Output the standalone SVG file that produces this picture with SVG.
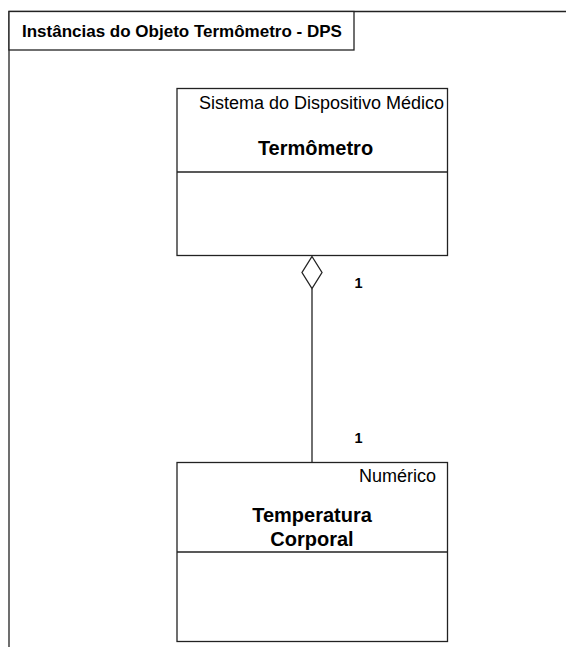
<svg xmlns="http://www.w3.org/2000/svg" width="566" height="647" viewBox="0 0 566 647">
<style>
.ln{fill:none;stroke:#222;stroke-width:1.3}
.box{fill:#fff;stroke:#222;stroke-width:1.3}
.t{font-family:"Liberation Sans",Arial,sans-serif;fill:#000}
.b{font-weight:bold}
</style>
<rect width="566" height="647" fill="#fff"/>
<g id="frame">
<path class="ln" d="M9,647 V11.5 H566"/>
<rect class="box" x="9" y="11.5" width="345" height="38.5"/>
<text class="t b" x="22" y="37" font-size="17">Instâncias do Objeto Termômetro - DPS</text>
</g>
<g id="connectors">
<line class="ln" x1="312" y1="288.5" x2="312" y2="462"/>
<polygon class="box" points="312,256.5 322,272.5 312,288.5 302,272.5"/>
<text class="t b" x="354.5" y="288" font-size="14.5">1</text>
<text class="t b" x="354.5" y="442.5" font-size="14.5">1</text>
</g>
<g id="termometro">
<rect class="box" x="177" y="88.5" width="270.5" height="167"/>
<line class="ln" x1="177" y1="172" x2="447.5" y2="172"/>
<text class="t" x="444" y="108.5" font-size="18" text-anchor="end">Sistema do Dispositivo Médico</text>
<text class="t b" x="315.5" y="154.5" font-size="20" text-anchor="middle">Termômetro</text>
</g>
<g id="temperatura">
<rect class="box" x="177" y="462.5" width="270.5" height="179"/>
<line class="ln" x1="177" y1="552" x2="447.5" y2="552"/>
<text class="t" x="436" y="482" font-size="18" text-anchor="end">Numérico</text>
<text class="t b" x="312" y="522" font-size="20" text-anchor="middle">Temperatura</text>
<text class="t b" x="312" y="545.5" font-size="20" text-anchor="middle">Corporal</text>
</g>
</svg>
